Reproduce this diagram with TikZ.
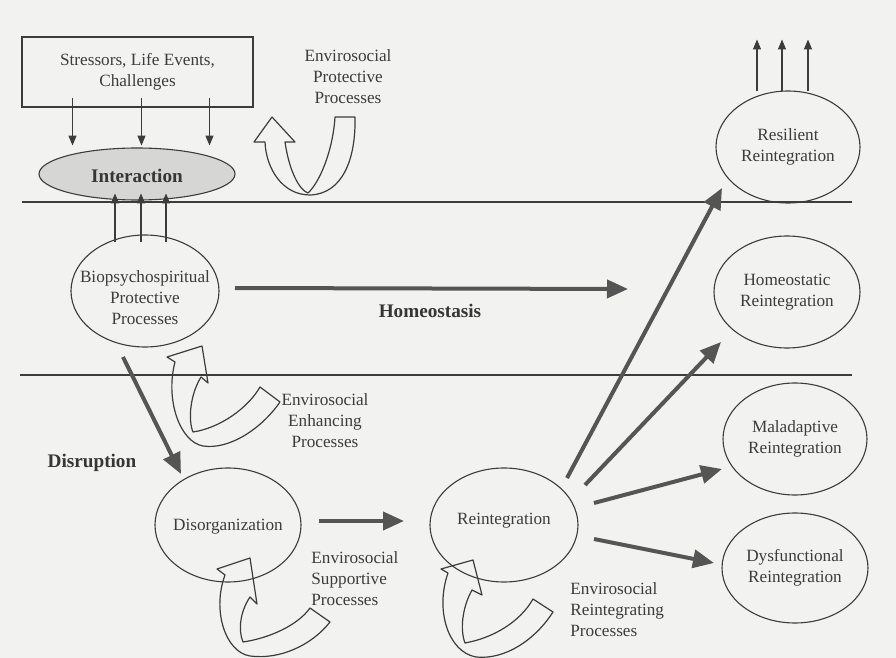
\documentclass[tikz,border=0pt]{standalone}
\usepackage{fontspec}
\setmainfont{Liberation Serif}
\usetikzlibrary{arrows.meta,shapes.geometric,calc}
\definecolor{paper}{HTML}{F2F2F0}
\definecolor{ink}{HTML}{3C3C3C}
\definecolor{fatgray}{HTML}{555555}
\definecolor{hatch}{HTML}{D6D6D4}

\begin{document}
\begin{tikzpicture}[x=0.5pt,y=-0.5pt,
  every node/.style={text=ink},
  txt/.style={font=\fontsize{8.6}{10.5}\selectfont, align=center, inner sep=0pt},
  boldtxt/.style={font=\fontsize{9.6}{11}\selectfont\bfseries, text=ink!90!black, inner sep=0pt},
  oval/.style={ellipse, draw=ink, line width=0.55pt, inner sep=0pt},
  band/.style={draw=ink, line width=0.6pt},
  thinarrow/.style={draw=ink, line width=0.55pt, -{Triangle[length=5pt,width=4pt]}},
  fatarrow/.style={draw=fatgray, line width=2pt, -{Triangle[length=10.5pt,width=9pt]}},
  uturn/.style={draw=ink, line width=0.6pt, line join=round}]

% page
\fill[paper] (0,0) rectangle (896,658);
\useasboundingbox (0,0) rectangle (896,658);

% separating bands
\draw[band] (22,202) -- (852,202);
\draw[band] (20,375) -- (852,375);

% stressor box and interaction
\node[draw=ink, line width=0.55pt, minimum width=115.5pt, minimum height=35pt, txt]
  (stress) at (137.5,72) {Stressors, Life Events,\\Challenges};
\node[oval, fill=hatch, minimum width=98pt, minimum height=26pt] (inter) at (137,174) {};
\node[boldtxt] (intertext) at (137,176) {Interaction};

% process ovals (outline first, text on top)
\node[oval, minimum width=74pt, minimum height=56pt] (bio) at (145,291) {};
\node[oval, minimum width=73pt, minimum height=57pt] (dis) at (228,525) {};
\node[oval, minimum width=74pt, minimum height=57pt] (rei) at (504,525) {};
\node[oval, minimum width=72pt, minimum height=56pt] (res) at (788,147) {};
\node[oval, minimum width=73pt, minimum height=56pt] (hom) at (787,292) {};
\node[oval, minimum width=72pt, minimum height=56pt] (mal) at (795,439) {};
\node[oval, minimum width=73pt, minimum height=55pt] (dys) at (795,568) {};

\node[txt] (biotxt) at ($(bio.center)+(0,7)$) {Biopsychospiritual\\Protective\\Processes};
\node[txt] (distxt) at ($(dis.center)+(0,2)$) {Disorganization};
\node[txt] (reitxt) at ($(rei.center)+(0,-4)$) {Reintegration};
\node[txt] (restxt) at (res.center) {Resilient\\Reintegration};
\node[txt] (homtxt) at (hom.center) {Homeostatic\\Reintegration};
\node[txt] (maltxt) at (mal.center) {Maladaptive\\Reintegration};
\node[txt] (dystxt) at (dys.center) {Dysfunctional\\Reintegration};

% labels
\node[txt] (protlbl) at (348,77) {Envirosocial\\Protective\\Processes};
\node[txt] (enhlbl) at (325,421) {Envirosocial\\Enhancing\\Processes};
\node[txt, align=left, anchor=west] (suplbl) at (311,579) {Envirosocial\\Supportive\\Processes};
\node[txt, align=left, anchor=west] (reilbl) at (570,610) {Envirosocial\\Reintegrating\\Processes};
\node[boldtxt] (homeo) at (430,311) {Homeostasis};
\node[boldtxt] (disr) at (92,463) {Disruption};

% stressors acting on the interaction
\foreach \dx in {-65,4,72}
  \draw[thinarrow] ($(stress.south)+(\dx,-10)$) -- ++(0,48);
% protective processes feeding the interaction
\foreach \dx in {-30,-4,21}
  \draw[thinarrow] ($(bio.north)+(\dx,8)$) -- ++(0,-49);
% growth beyond resilient reintegration
\foreach \dx in {-31,-6,20}
  \draw[thinarrow] ($(res.north)+(\dx,1)$) -- ++(0,-52);

% main paths
\draw[fatarrow] ($(bio.center)+(90,-3)$) -- ($(hom.center)+(-159,-3)$);
\draw[fatarrow] ($(bio.center)+(-22,66)$) -- ($(dis.center)+(-47,-51)$);
\draw[fatarrow] ($(dis.center)+(91,-4)$) -- ($(rei.center)+(-100,-4)$);
\draw[fatarrow] ($(rei.center)+(63,-47)$) -- ($(res.center)+(-66,41)$);
\draw[fatarrow] ($(rei.center)+(81,-40)$) -- ($(hom.center)+(-66,50)$);
\draw[fatarrow] ($(rei.center)+(90,-22)$) -- ($(mal.center)+(-73,30)$);
\draw[fatarrow] ($(rei.center)+(90,14)$) -- ($(dys.center)+(-81,-5)$);

% hollow U-turn arrows
\draw[uturn] (272,117) -- (295,142) -- (285,142)
  .. controls (289,170) and (299,190) .. (308,193)
  .. controls (320,182) and (333,150) .. (335,117) -- (355,117)
  .. controls (356,160) and (342,194) .. (310,195)
  .. controls (282,195) and (266,168) .. (265,142) -- (254,142) -- cycle;

\draw[uturn] (202,346) -- (208,383) -- (201,377)
  .. controls (190,395) and (188,420) .. (193,432)
  .. controls (220,428) and (248,408) .. (260,387) -- (280,402)
  .. controls (262,428) and (230,450) .. (203,446)
  .. controls (180,442) and (165,400) .. (175,362) -- (167,357) -- cycle;

\draw[uturn] (250,558) -- (257,604) -- (250,597)
  .. controls (240,612) and (238,630) .. (243,642)
  .. controls (270,638) and (298,625) .. (310,608) -- (330,622)
  .. controls (312,645) and (280,660) .. (250,656)
  .. controls (225,652) and (212,610) .. (225,575) -- (217,569) -- cycle;

\draw[uturn] (473,560) -- (482,595) -- (472,590)
  .. controls (462,608) and (460,630) .. (465,643)
  .. controls (493,638) and (520,622) .. (533,599) -- (553,612)
  .. controls (535,640) and (505,660) .. (476,657)
  .. controls (448,652) and (435,610) .. (448,573) -- (441,569) -- cycle;

\end{tikzpicture}
\end{document}
